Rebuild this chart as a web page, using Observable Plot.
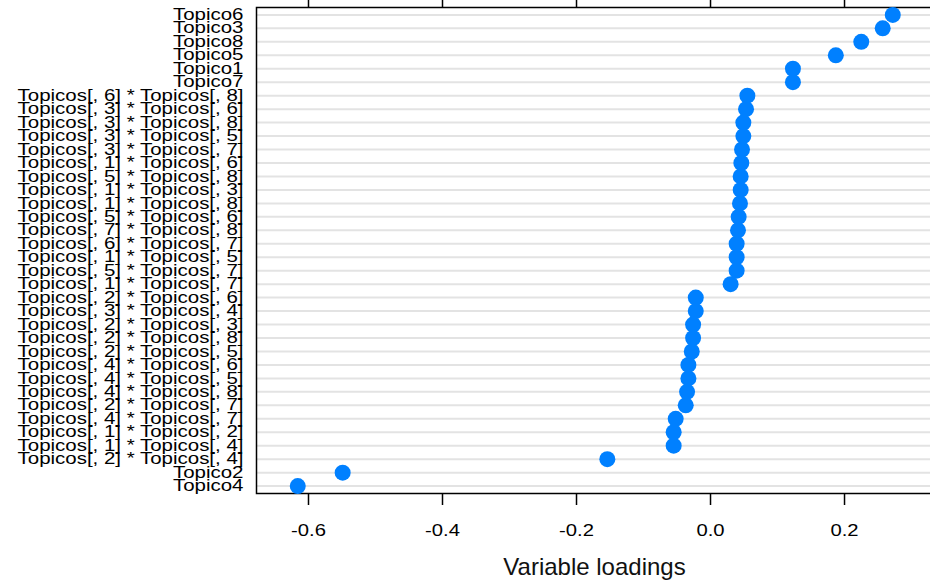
<!DOCTYPE html>
<html><head><meta charset="utf-8">
<script src="https://cdn.jsdelivr.net/npm/d3@7"></script>
<script src="https://cdn.jsdelivr.net/npm/@observablehq/plot@0.6"></script>
<style>body{margin:0;background:#fff}</style>
</head><body><div id="chart"></div>
<script>
const variables = [
  "Topico6", "Topico3", "Topico8", "Topico5", "Topico1", "Topico7",
  "Topicos[, 6] * Topicos[, 8]", "Topicos[, 3] * Topicos[, 6]", "Topicos[, 3] * Topicos[, 8]",
  "Topicos[, 3] * Topicos[, 5]", "Topicos[, 3] * Topicos[, 7]", "Topicos[, 1] * Topicos[, 6]",
  "Topicos[, 5] * Topicos[, 8]", "Topicos[, 1] * Topicos[, 3]", "Topicos[, 1] * Topicos[, 8]",
  "Topicos[, 5] * Topicos[, 6]", "Topicos[, 7] * Topicos[, 8]", "Topicos[, 6] * Topicos[, 7]",
  "Topicos[, 1] * Topicos[, 5]", "Topicos[, 5] * Topicos[, 7]", "Topicos[, 1] * Topicos[, 7]",
  "Topicos[, 2] * Topicos[, 6]", "Topicos[, 3] * Topicos[, 4]", "Topicos[, 2] * Topicos[, 3]",
  "Topicos[, 2] * Topicos[, 8]", "Topicos[, 2] * Topicos[, 5]", "Topicos[, 4] * Topicos[, 6]",
  "Topicos[, 4] * Topicos[, 5]", "Topicos[, 4] * Topicos[, 8]", "Topicos[, 2] * Topicos[, 7]",
  "Topicos[, 4] * Topicos[, 7]", "Topicos[, 1] * Topicos[, 2]", "Topicos[, 1] * Topicos[, 4]",
  "Topicos[, 2] * Topicos[, 4]", "Topico2", "Topico4"
];
const loadings = [
  0.272, 0.257, 0.225, 0.187, 0.123, 0.123,
  0.055, 0.053, 0.049, 0.049, 0.047, 0.046,
  0.045, 0.045, 0.044, 0.042, 0.041, 0.039,
  0.039, 0.039, 0.030,
  -0.022, -0.022, -0.026, -0.026, -0.028, -0.033,
  -0.033, -0.035, -0.037, -0.052, -0.055, -0.055,
  -0.154, -0.549, -0.616
];
const xTicks = [-0.6, -0.4, -0.2, 0.0, 0.2];
const xLabel = "Variable loadings";

const data = variables.map((v, i) => ({variable: v, loading: loadings[i]}));

const plot = Plot.plot({
  width: 930, height: 586,
  marginLeft: 256, marginRight: -2, marginTop: 7, marginBottom: 93,
  style: {fontFamily: "'Liberation Sans', Arial, sans-serif", background: "#fff", color: "#000"},
  x: {domain: [-0.6776, 0.3313]},
  y: {type: "point", domain: variables, padding: 0.55, round: false},
  marks: [
    Plot.ruleY(variables, {y: d => d, stroke: "#e3e3e3", strokeWidth: 2}),
    Plot.frame({stroke: "#000", strokeWidth: 1.5}),
    Plot.axisX({ticks: xTicks, anchor: "bottom", tickSize: 12, tickPadding: 18, tickFormat: d => d.toFixed(1), label: null, fontSize: 17, strokeWidth: 1.5}),
    Plot.axisX({ticks: xTicks, anchor: "top", tickSize: 8, tickFormat: () => "", label: null, strokeWidth: 1.5}),
    Plot.axisY({anchor: "left", tickSize: 0, tickPadding: 13, label: null, fontSize: 16}),
    Plot.dot(data, {x: "loading", y: "variable", r: 8, fill: "#0080ff"}),
    Plot.text([xLabel], {text: d => d, frameAnchor: "bottom", dy: 81, fontSize: 24, fill: "#111"})
  ]
});
document.getElementById("chart").append(plot);

function stretch(sel, sx) {
  d3.select(plot).selectAll(sel).each(function() {
    const t = this.getAttribute("transform");
    if (t) {
      this.setAttribute("transform", t + ` scale(${sx},1)`);
    } else {
      const x = +(this.getAttribute("x") || 0), y = +(this.getAttribute("y") || 0);
      this.removeAttribute("x"); this.removeAttribute("y");
      this.setAttribute("transform", `translate(${x},${y}) scale(${sx},1)`);
    }
  });
}
stretch('g[aria-label="y-axis tick label"] text', 1.28);
stretch('g[aria-label="x-axis tick label"] text', 1.19);
</script>
</body></html>
